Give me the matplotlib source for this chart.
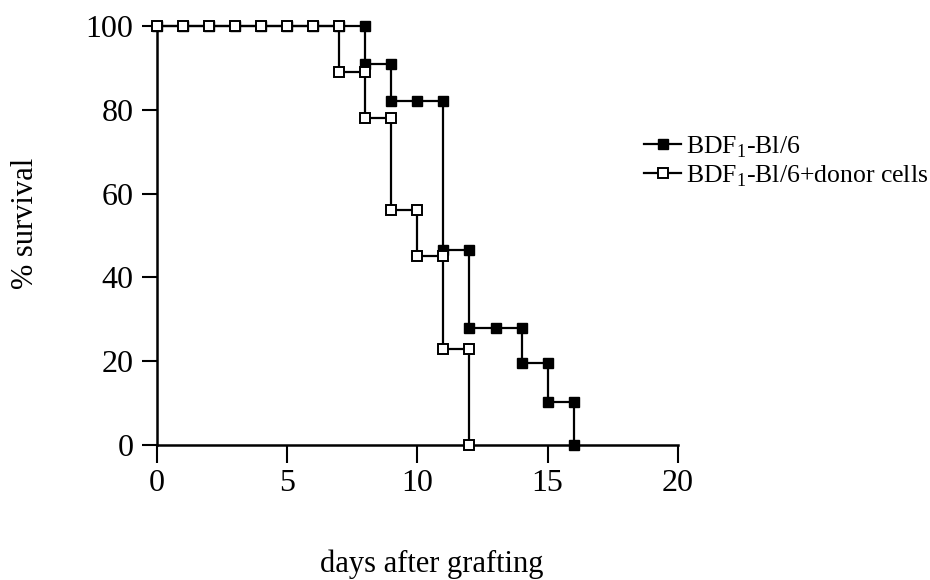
import matplotlib
matplotlib.use("Agg")
import matplotlib.pyplot as plt

# survival (%) at the end of each day
days_bl6 = [0, 1, 2, 3, 4, 5, 6, 7, 8, 9, 10, 11, 12, 13, 14, 15, 16]
surv_bl6 = [100, 100, 100, 100, 100, 100, 100, 100, 91, 82, 82, 46.5, 28, 28, 19.5, 10.3, 0]

days_donor = [0, 1, 2, 3, 4, 5, 6, 7, 8, 9, 10, 11, 12]
surv_donor = [100, 100, 100, 100, 100, 100, 100, 89, 78, 56, 45, 23, 0]

label_bl6 = r"BDF$_{\mathrm{1}}$-Bl/6"
label_donor = r"BDF$_{\mathrm{1}}$-Bl/6+donor cells"

plt.rcParams["font.family"] = ["Liberation Serif", "DejaVu Serif"]
plt.rcParams["mathtext.fontset"] = "custom"
plt.rcParams["mathtext.rm"] = "Liberation Serif"


def step_points(days, surv):
    # vertical drop at each day, one marker at each corner
    xs, ys = [days[0]], [surv[0]]
    for i in range(1, len(days)):
        if surv[i] != surv[i - 1]:
            xs.append(days[i])
            ys.append(surv[i - 1])
        xs.append(days[i])
        ys.append(surv[i])
    return xs, ys


fig = plt.figure(figsize=(9.3, 5.8), dpi=100)
ax = fig.add_axes([0.1688, 0.2328, 0.560, 0.7224])

x1, y1 = step_points(days_bl6, surv_bl6)
x2, y2 = step_points(days_donor, surv_donor)
ax.plot(x1, y1, color="black", lw=1.6, marker="s", ms=6.5, mfc="black",
        mec="black", clip_on=False, label=label_bl6, zorder=3)
ax.plot(x2, y2, color="black", lw=1.6, marker="s", ms=6.5, mfc="white",
        mec="black", mew=1.4, clip_on=False, label=label_donor, zorder=4)

ax.set_xlim(0, 20)
ax.set_ylim(0, 100)
ax.set_xticks([0, 5, 10, 15, 20])
ax.set_yticks([0, 20, 40, 60, 80, 100])
ax.spines["top"].set_visible(False)
ax.spines["right"].set_visible(False)
for s in ["left", "bottom"]:
    ax.spines[s].set_linewidth(1.8)
ax.tick_params(axis="both", direction="out", width=1.5, labelsize=23)
ax.tick_params(axis="x", length=13, pad=4)
ax.tick_params(axis="y", length=11, pad=6)

ax.set_xlabel("days after grafting", fontsize=22)
ax.xaxis.set_label_coords(0.527, -0.25)
ax.set_ylabel("% survival", fontsize=22)
ax.yaxis.set_label_coords(-0.224, 0.53)

ax.legend(loc="upper left", bbox_to_anchor=(0.935, 0.742), frameon=False,
          fontsize=18.5, handlelength=1.45, handletextpad=0.2,
          borderpad=0, borderaxespad=0, labelspacing=0.15)

fig.savefig("out.png", dpi=100, facecolor="white")
